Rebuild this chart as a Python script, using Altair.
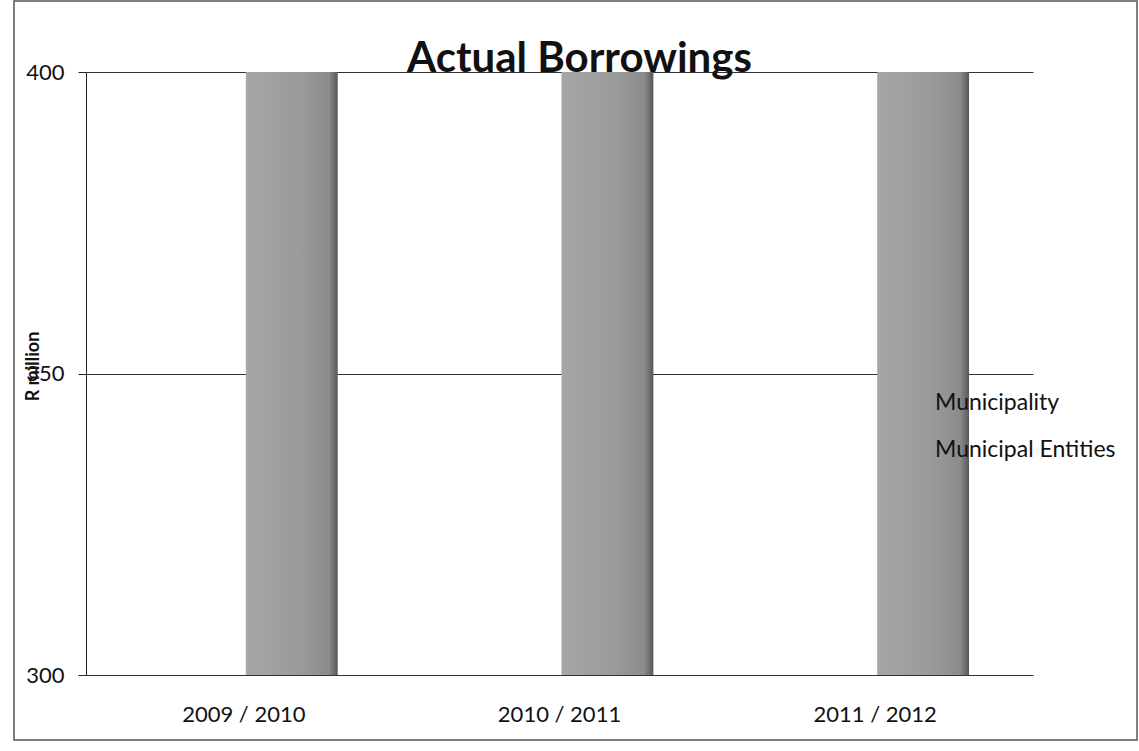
import altair as alt
import pandas as pd

title_text = "Actual Borrowings"
categories = ["2009 / 2010", "2010 / 2011", "2011 / 2012"]
series = ["Municipality", "Municipal Entities"]
municipality = [0, 0, 0]
municipal_entities = [400, 400, 400]
y_ticks = [300, 350, 400]

rows = []
for i, c in enumerate(categories):
    rows.append({"year": c, "series": series[0], "value": municipality[i]})
    rows.append({"year": c, "series": series[1], "value": municipal_entities[i]})
df = pd.DataFrame(rows)

FONT = "Lato"
W, H = 947, 603
PAD_L, PAD_T = 86, 72

bar_fill = alt.Gradient(
    gradient="linear",
    stops=[
        alt.GradientStop(color="#a6a6a6", offset=0),
        alt.GradientStop(color="#9a9a9a", offset=0.6),
        alt.GradientStop(color="#8c8c8c", offset=0.9),
        alt.GradientStop(color="#585858", offset=1),
    ],
    x1=0, x2=1, y1=0, y2=0,
)

bars = alt.Chart(df).mark_bar(clip=True, fill=bar_fill).encode(
    x=alt.X("year:N", sort=categories, title=None,
            scale=alt.Scale(paddingInner=0, paddingOuter=0),
            axis=alt.Axis(labelFontSize=22, labelAngle=0, labelPadding=29,
                          domain=False, ticks=False, labelColor="#111",
                          labelFont=FONT)),
    xOffset=alt.XOffset("series:N", sort=series,
                        scale=alt.Scale(paddingInner=0.042, paddingOuter=0.667)),
    y=alt.Y("value:Q", title="R million",
            scale=alt.Scale(domain=[300, 400], zero=False, nice=False),
            axis=alt.Axis(values=y_ticks, labelFontSize=22, labelPadding=14,
                          tickSize=8, tickColor="#222", domainColor="#222",
                          grid=True, gridColor="#333", gridWidth=1,
                          labelColor="#111",
                          labelFont=FONT, titleFont=FONT, titleFontSize=18,
                          titleFontWeight="bold", titleX=-53, titleY=294,
                          titleAngle=270, titleBaseline="middle",
                          titleAlign="center", titleColor="#111")),
    detail="series:N",
)


def legend_label(name, ypix):
    return alt.Chart(pd.DataFrame({"series": [name]})).mark_text(
        align="left", baseline="middle", fontSize=23, font=FONT, color="#111"
    ).encode(x=alt.value(849), y=alt.value(ypix), text="series:N")


legend1 = legend_label(series[0], 331)
legend2 = legend_label(series[1], 378)

title = alt.Chart(pd.DataFrame({"t": [title_text]})).mark_text(
    align="center", baseline="alphabetic", fontSize=42, fontWeight="bold",
    font=FONT, color="#111"
).encode(x=alt.value(W / 2 + 20), y=alt.value(0), text="t:N")

frame = alt.Chart(pd.DataFrame({"k": [0]})).mark_rect(
    fill=None, stroke="#555", strokeWidth=1.5, clip=False
).encode(
    x=alt.value(14 - PAD_L), x2=alt.value(1137 - PAD_L),
    y=alt.value(1 - PAD_T), y2=alt.value(740 - PAD_T),
)

chart = alt.layer(bars, legend1, legend2, title, frame).properties(
    width=W, height=H,
    autosize=alt.AutoSizeParams(type="none"),
    padding={"left": PAD_L, "top": PAD_T, "right": 1139 - PAD_L - W,
             "bottom": 751 - PAD_T - H},
    background="white",
).configure_view(stroke=None)

chart.save("out.html", embed_options={"renderer": "svg", "actions": False})
